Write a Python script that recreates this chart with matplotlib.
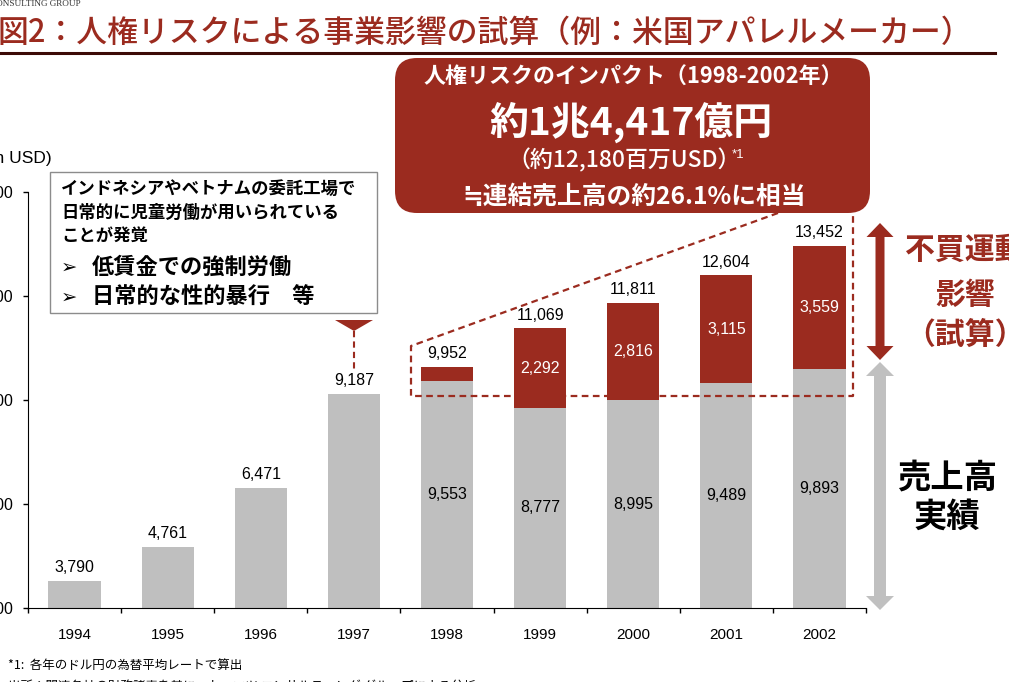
import matplotlib
matplotlib.use("Agg")
import matplotlib.pyplot as plt
import numpy as np
from matplotlib.patches import FancyBboxPatch, Polygon, Rectangle

# data (million USD)
years = ["1994", "1995", "1996", "1997", "1998", "1999", "2000", "2001", "2002"]
sales = [3790, 4761, 6471, 9187, 9553, 8777, 8995, 9489, 9893]
impact = [0, 0, 0, 0, 399, 2292, 2816, 3115, 3559]
y_ticks = [3000, 6000, 9000, 12000, 15000]

RED = "#9B2B1F"
GRAY = "#BFBFBF"
JP = ["Noto Sans CJK JP", "DejaVu Sans"]
W, H = 1009, 682

plt.rcParams["font.family"] = ["Liberation Sans", "DejaVu Sans"]

fig = plt.figure(figsize=(W / 100, H / 100), dpi=100)

# main bar chart
ax = fig.add_axes([28 / W, 1 - 608 / H, (866 - 28) / W, (608 - 192) / H])
x = np.arange(len(years))
totals = np.array(sales) + np.array(impact)
ax.bar(x, sales, width=0.56, color=GRAY, zorder=2)
ax.bar(x, impact, bottom=sales, width=0.56, color=RED, zorder=2)
ax.set_xlim(-0.5, 8.5)
ax.set_ylim(3000, 15000)
ax.set_yticks(y_ticks)
ax.set_yticklabels([f"{v:,}" for v in y_ticks])
ax.set_xticks(x)
ax.set_xticklabels(years)
ax.set_xticks(np.arange(-0.5, 9, 1), minor=True)
ax.tick_params(axis="x", which="major", length=0, pad=14.5, labelsize=11)
ax.tick_params(axis="x", which="minor", length=3.6, width=1, direction="out")
ax.tick_params(axis="y", length=3.6, width=1, pad=7, labelsize=11.5)
for s in ["top", "right"]:
    ax.spines[s].set_visible(False)
ax.spines["left"].set_bounds(3000, 15000)

ybase = ax.get_ylim()[0]
for i in range(len(years)):
    ax.annotate(f"{totals[i]:,}", (i, totals[i]), xytext=(0, 4),
                textcoords="offset points", ha="center", va="bottom", fontsize=11.5)
    if impact[i] > 0:
        ax.text(i, (ybase + sales[i]) / 2, f"{sales[i]:,}", ha="center",
                va="center", fontsize=11.5)
    if impact[i] > 1000:
        ax.text(i, sales[i] + impact[i] / 2, f"{impact[i]:,}", ha="center",
                va="center", fontsize=11.5, color="white")

# overlay in pixel coordinates for the annotations
ov = fig.add_axes([0, 0, 1, 1], zorder=5)
ov.set_xlim(0, W)
ov.set_ylim(H, 0)
ov.axis("off")
ov.patch.set_alpha(0)

# title
ov.text(-3, 33, "図2：人権リスクによる事業影響の試算（例：米国アパレルメーカー）",
        color=RED, fontsize=22.2, family=JP, weight="medium", va="center", ha="left")
ov.plot([0, 995], [53, 53], color="#3C0A06", lw=2.2)
ov.text(81, 4, "CONSULTING GROUP", family="Liberation Serif", fontsize=6.6,
        ha="right", va="center", color="#333333")
ov.text(52, 159, "(Million USD)", ha="right", va="center", fontsize=12.5)

# left note box
ov.add_patch(Rectangle((50, 172), 327, 141, fc="white", ec="#8C8C8C", lw=1, zorder=3))
note_lines = ["インドネシアやベトナムの委託工場で", "日常的に児童労働が用いられている", "ことが発覚"]
for txt, yy in zip(note_lines, [189, 213, 236]):
    ov.text(61, yy, txt, family=JP, weight="bold", fontsize=12.5, va="center", zorder=4)
for txt, yy in [("低賃金での強制労働", 267), ("日常的な性的暴行　等", 297)]:
    ov.text(61, yy, "➢", family=["DejaVu Sans"], weight="bold", fontsize=14,
            va="center", zorder=4)
    ov.text(92, yy, txt, family=JP, weight="bold", fontsize=16, va="center", zorder=4)
ov.add_patch(Polygon([(335, 320), (373, 320), (354, 331)], closed=True, fc=RED, ec="none"))
ov.plot([354, 354], [331, 372], color=RED, lw=1.5, ls=(0, (3, 2)))

# dashed frame around the boycott portion
ov.plot([778, 411, 411, 853, 853], [213, 346, 396, 396, 213], color=RED,
        lw=1.6, ls=(0, (3, 2)), zorder=2)

# callout box
ov.add_patch(FancyBboxPatch((395, 58), 475, 155, boxstyle="round,pad=0,rounding_size=22",
                            fc=RED, ec="none", zorder=3))
ov.text(633, 77, "人権リスクのインパクト（1998-2002年）", family=JP, weight="bold",
        fontsize=15.8, color="white", ha="center", va="center", zorder=4)
ov.text(631, 122, "約1兆4,417億円", family=JP, weight="bold", fontsize=28,
        color="white", ha="center", va="center", zorder=4)
t3 = ov.text(624, 160, "（約12,180百万USD）", family=JP, weight="medium", fontsize=16.5,
             color="white", ha="center", va="center", zorder=4)
ov.text(634, 197, "≒連結売上高の約26.1%に相当", family=JP, weight="bold", fontsize=17.8,
        color="white", ha="center", va="center", zorder=4)
fig.canvas.draw()
bb = t3.get_window_extent(fig.canvas.get_renderer())
x1, y1 = ov.transData.inverted().transform((bb.x1, bb.y1))
ov.text(x1 - 9, y1 + 1, "*1", fontsize=9.5, color="white", ha="left", va="top", zorder=4)


def double_arrow(xc, top, bottom, shaft, head_w, head_l, color):
    pts = [(xc, top), (xc + head_w / 2, top + head_l), (xc + shaft / 2, top + head_l),
           (xc + shaft / 2, bottom - head_l), (xc + head_w / 2, bottom - head_l),
           (xc, bottom), (xc - head_w / 2, bottom - head_l), (xc - shaft / 2, bottom - head_l),
           (xc - shaft / 2, top + head_l), (xc - head_w / 2, top + head_l)]
    ov.add_patch(Polygon(pts, closed=True, fc=color, ec="none"))


double_arrow(880, 223, 360, 9, 27, 14, RED)
double_arrow(880, 362, 610, 12, 28, 14, "#C0C0C0")

for txt, yy in [("不買運動", 250), ("影響", 295), ("（試算）", 335)]:
    ov.text(965, yy, txt, family=JP, weight="bold", fontsize=21.5, color=RED,
            ha="center", va="center")
for txt, yy in [("売上高", 478), ("実績", 517)]:
    ov.text(947, yy, txt, family=JP, weight="bold", fontsize=24, ha="center", va="center")

# footnotes
ov.text(8, 665, "*1:  各年のドル円の為替平均レートで算出", family=JP, fontsize=9, va="center")
ov.text(8, 686, "出所：関連各社の財務諸表を基に、トーマツ コンサルティング グループによる分析",
        family=JP, fontsize=9, va="center")

fig.savefig("out.png", dpi=100)
